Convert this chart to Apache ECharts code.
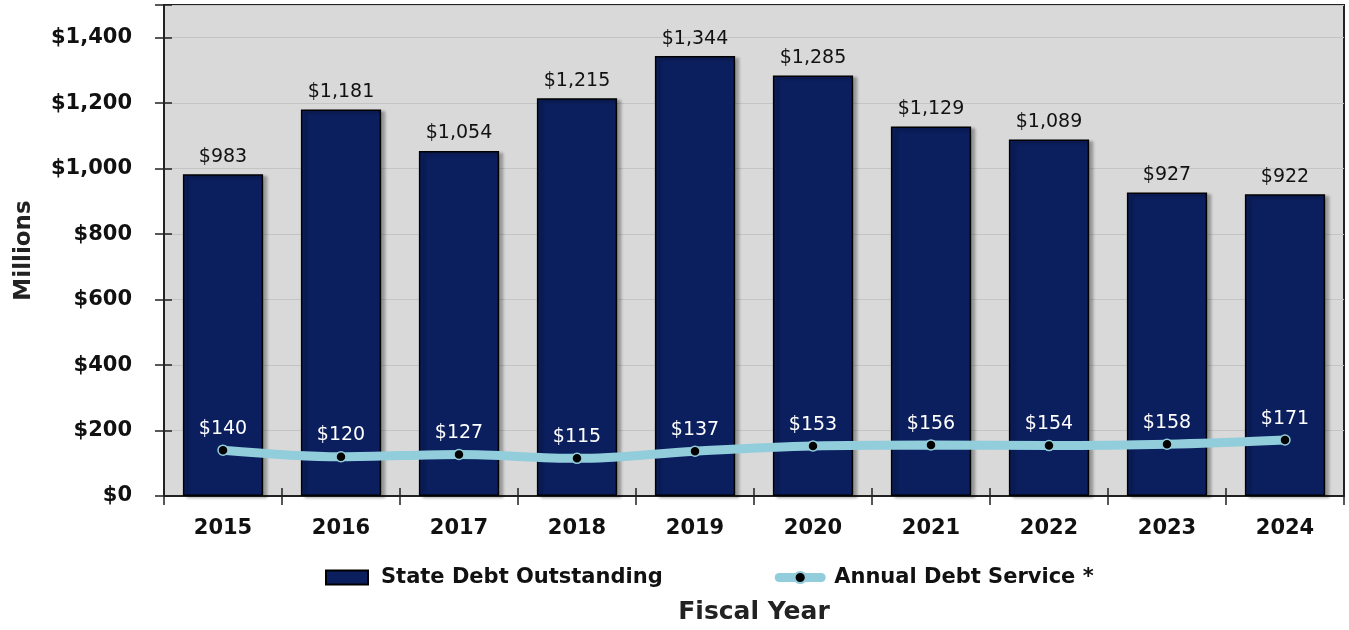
<!DOCTYPE html>
<html>
<head>
<meta charset="utf-8">
<script src="https://cdn.jsdelivr.net/npm/echarts@6/dist/echarts.min.js"></script>
<style>
  html, body { margin: 0; padding: 0; background: #ffffff; }
  #chart { width: 1349px; height: 630px; }
</style>
</head>
<body>
<div id="chart"></div>
<script>
// Fiscal years on the category axis
const years = ['2015', '2016', '2017', '2018', '2019', '2020', '2021', '2022', '2023', '2024'];
// State debt outstanding, $ millions
const debtOutstanding = [983, 1181, 1054, 1215, 1344, 1285, 1129, 1089, 927, 922];
// Annual debt service, $ millions
const debtService = [140, 120, 127, 115, 137, 153, 156, 154, 158, 171];

const FONT = '"DejaVu Sans", sans-serif';
const money = v => '$' + Number(v).toLocaleString('en-US');

const LINE_BLUE = '#92cddc';
const NAVY = '#0b1f5e';

const chart = echarts.init(document.getElementById('chart'), null, { renderer: 'canvas' });

chart.setOption({
  animation: false,
  textStyle: { fontFamily: FONT },
  grid: {
    left: 164, right: 5, top: 5, bottom: 131,
    show: true,
    backgroundColor: '#d9d9d9',
    borderColor: '#222222',
    borderWidth: 2
  },
  legend: {
    left: 320, top: 562,
    itemWidth: 42, itemHeight: 14, itemGap: 112,
    textStyle: {
      fontFamily: FONT, fontSize: 21, fontWeight: 'bold', color: '#111',
      padding: [0, 0, 0, 8]
    },
    data: [
      { name: 'State Debt Outstanding', icon: 'rect' },
      {
        name: 'Annual Debt Service *',
        lineStyle: { width: 9, color: LINE_BLUE, cap: 'round' }
      }
    ]
  },
  xAxis: [{
    type: 'category',
    data: years,
    name: 'Fiscal Year',
    nameLocation: 'middle',
    nameGap: 104,
    nameTextStyle: { fontFamily: FONT, fontSize: 25, fontWeight: 'bold', color: '#222' },
    axisLine: { lineStyle: { color: '#222', width: 2 } },
    axisTick: { show: true, length: 9, lineStyle: { color: '#222', width: 1.5 } },
    axisLabel: { fontFamily: FONT, fontSize: 21, fontWeight: 'bold', color: '#111', margin: 22 }
  }, {
    // inward half of the crossing tick marks on the category axis
    type: 'category',
    data: years,
    position: 'bottom',
    axisLine: { show: false },
    axisTick: { show: true, inside: true, length: 8, lineStyle: { color: '#222', width: 1.5 } },
    axisLabel: { show: false }
  }],
  yAxis: [{
    type: 'value',
    min: 0, max: 1500, interval: 200,
    name: 'Millions',
    nameLocation: 'middle',
    nameGap: 128,
    nameTextStyle: { fontFamily: FONT, fontSize: 23, fontWeight: 'bold', color: '#222' },
    axisLine: { show: true, lineStyle: { color: '#222', width: 2 } },
    axisTick: { show: true, length: 9, lineStyle: { color: '#222', width: 1.5 } },
    axisLabel: {
      fontFamily: FONT, fontSize: 21, fontWeight: 'bold', color: '#111', margin: 32,
      formatter: v => (v > 1400 ? '' : money(v))
    },
    splitLine: { show: true, lineStyle: { color: '#c4c4c4', width: 1.2 } }
  }, {
    // inward half of the crossing tick marks on the value axis
    type: 'value',
    position: 'left',
    min: 0, max: 1500, interval: 200,
    axisLine: { show: false },
    axisTick: { show: true, inside: true, length: 8, lineStyle: { color: '#222', width: 1.5 } },
    axisLabel: { show: false },
    splitLine: { show: false }
  }],
  series: [{
    name: 'State Debt Outstanding',
    type: 'bar',
    data: debtOutstanding,
    barWidth: '68%',
    itemStyle: {
      color: NAVY,
      borderColor: '#000000',
      borderWidth: 1.5,
      shadowColor: 'rgba(0,0,0,0.35)',
      shadowBlur: 3,
      shadowOffsetX: 4,
      shadowOffsetY: 2
    },
    label: {
      show: true, position: 'top', distance: 8,
      fontFamily: FONT, fontSize: 19, color: '#111',
      formatter: p => money(p.value)
    },
    z: 2
  }, {
    name: 'Annual Debt Service *',
    type: 'line',
    data: debtService,
    smooth: 0.35,
    symbol: 'circle',
    symbolSize: 10,
    lineStyle: { color: LINE_BLUE, width: 9 },
    itemStyle: { color: '#000000', borderColor: LINE_BLUE, borderWidth: 1.5 },
    label: {
      show: true, position: 'top', distance: 6,
      fontFamily: FONT, fontSize: 19, color: '#ffffff',
      formatter: p => money(p.value)
    },
    z: 5
  }]
});
</script>
</body>
</html>
